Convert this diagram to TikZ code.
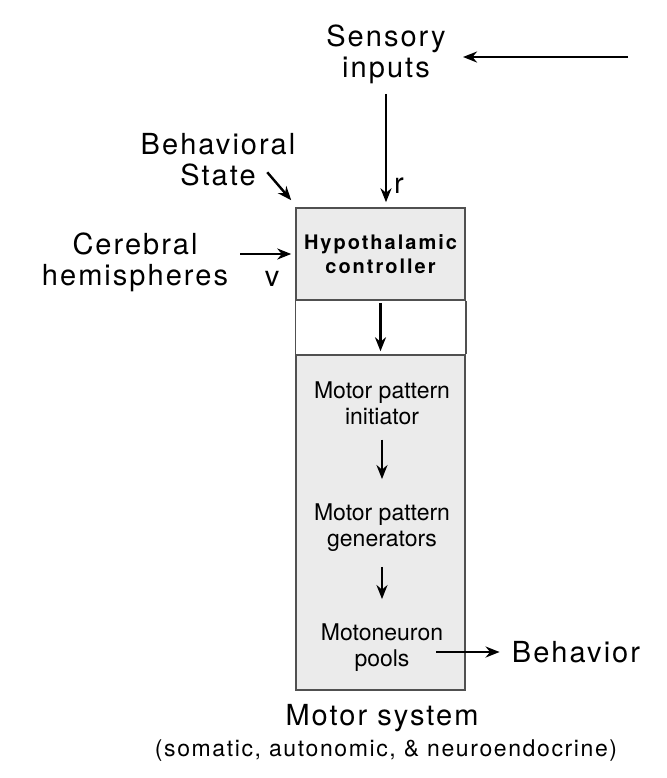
\documentclass[tikz,border=0pt]{standalone}
\usepackage{fontspec}
\setmainfont{TeX Gyre Heros}
\newfontfamily\lblfont[LetterSpace=7]{TeX Gyre Heros}
\newfontfamily\hypfont[LetterSpace=10]{TeX Gyre Heros}
\usetikzlibrary{arrows.meta}
\definecolor{boxgray}{HTML}{EBEBEB}
\definecolor{edgegray}{HTML}{505050}

\begin{document}
\begin{tikzpicture}[x=0.5pt, y=-0.5pt,
  lbl/.style={font=\lblfont\fontsize{14.5}{15.5}\selectfont, align=center, inner sep=2pt},
  txt/.style={font=\fontsize{11.5}{13}\selectfont, align=center},
  arr/.style={-{Stealth[length=7pt,width=5.5pt]}, line width=1.2pt},
  blk/.style={draw=edgegray, line width=0.75pt, fill=boxgray, minimum width=84.5pt}]
\useasboundingbox (0,0) rectangle (666,778);

% inputs
\node[lbl] (sens) at (386,54) {Sensory\\inputs};
\coordinate (src) at (628,57);
\node[lbl] (bstate) at (218,160) {Behavioral\\State};
\node[lbl] (cereb) at (135,262) {Cerebral\\hemispheres};

% motor system column
\node[blk, minimum height=46pt, align=center,
  font=\hypfont\bfseries\fontsize{10}{12}\selectfont] (hyp) at (380.5,254) {Hypothalamic\\controller};
\node[blk, minimum height=167.5pt] (motor) at (380.5,522.5) {};
\draw[edgegray, line width=0.75pt] (hyp.south west) -- (motor.north west)
  (hyp.south east) -- (motor.north east);

\node[txt] (init) at (382,403) {Motor pattern\\initiator};
\node[txt] (gen) at (382,528) {Motor pattern\\generators};
\node[txt] (pools) at (382,648) {Motoneuron\\pools};

% labels
\node[lbl] (r) at (399,186) {r};
\node[lbl] (v) at (272,279) {v};
\node[lbl] (beh) at (576,652) {Behavior};
\node[lbl] (msys) at (382,718) {Motor system};
\node[font=\lblfont\fontsize{11.5}{13}\selectfont] (msub) at (386,751) {(somatic, autonomic, \& neuroendocrine)};

% arrows
\draw[arr, shorten >=6.5pt] (src) -- (sens.east |- src);
\draw[arr, shorten <=3pt, shorten >=2.5pt] (sens.south) -- (sens.south |- hyp.north);
\draw[arr] ([shift={(-28,-35)}]hyp.north west) -- ([shift={(-4,-7)}]hyp.north west);
\draw[arr, shorten <=4pt, shorten >=2pt] (cereb.east |- hyp.west) -- (hyp.west);
\draw[arr, shorten <=1pt, shorten >=1.5pt] (hyp.south) -- (motor.north);
\draw[arr, shorten <=4pt, shorten >=9pt] (init) -- (gen);
\draw[arr, shorten <=4pt, shorten >=9pt] (gen) -- (pools);
\draw[arr, shorten >=4pt] ([xshift=-7pt]pools.east |- beh.west) -- (beh.west);
\end{tikzpicture}
\end{document}
